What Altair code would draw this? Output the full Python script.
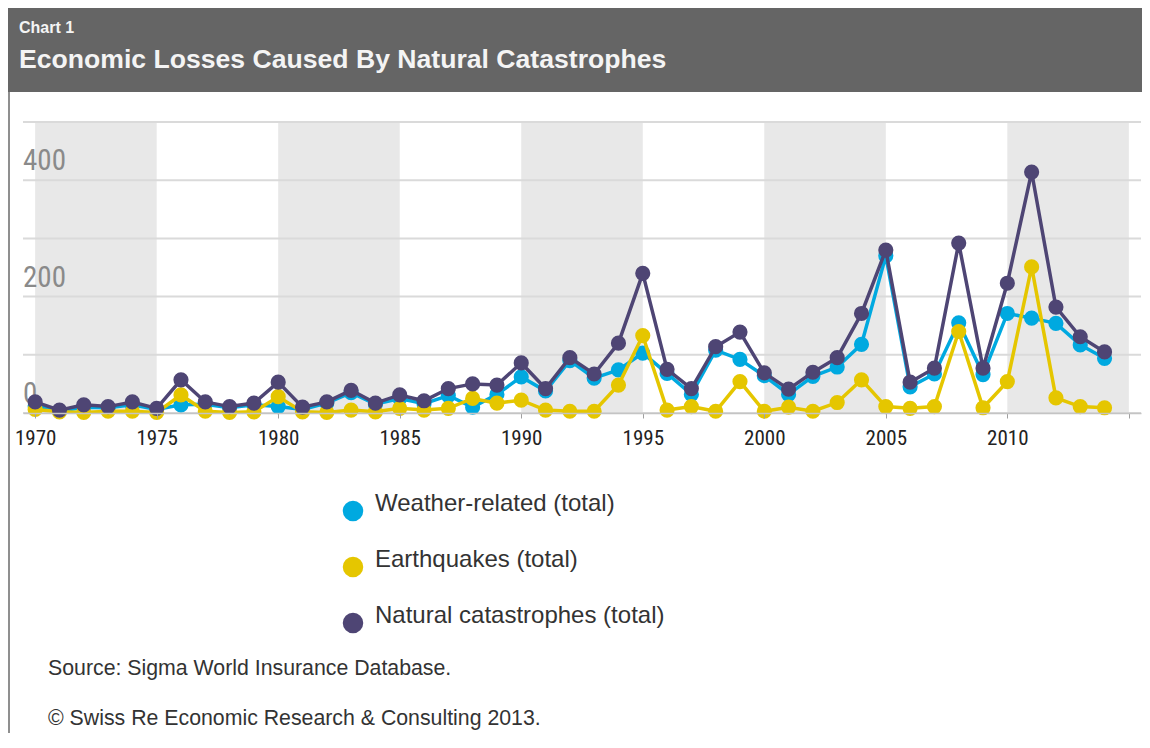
import altair as alt
import pandas as pd

# ---------------- data ----------------
years = list(range(1970, 2015))
weather = [12, 3, 10, 9, 14, 6, 14, 15, 9, 14,
           11, 6, 17, 35, 15, 25, 16, 30, 10, 32,
           62, 38, 90, 60, 74, 103, 68, 32, 108, 92,
           64, 32, 63, 79, 118, 270, 45, 67, 155, 66,
           171, 163, 154, 117, 94]
earthquakes = [6, 2, 1, 3, 3, 1, 31, 3, 1, 2,
               28, 2, 1, 5, 2, 8, 5, 8, 25, 17,
               22, 5, 3, 3, 48, 133, 5, 11, 3, 54,
               3, 10, 3, 18, 57, 11, 8, 11, 140, 9,
               54, 251, 26, 11, 9]
natcat = [19, 5, 14, 11, 19, 8, 57, 19, 11, 17,
          53, 10, 19, 39, 17, 31, 21, 42, 50, 48,
          86, 42, 95, 67, 120, 240, 75, 42, 114, 139,
          69, 41, 70, 95, 171, 280, 53, 77, 292, 77,
          223, 414, 182, 131, 105]

series_names = ["Weather-related (total)", "Earthquakes (total)", "Natural catastrophes (total)"]
series_colors = ["#00a9e0", "#e5c600", "#4e4574"]

band_starts = [1970, 1980, 1990, 2000, 2010]
band_ends = [1975, 1985, 1995, 2005, 2015]
grid_values = [0, 100, 200, 300, 400, 500]
y_label_values = [0, 200, 400]
x_tick_values = [1970, 1975, 1980, 1985, 1990, 1995, 2000, 2005, 2010, 2015]

chart_label = "Chart 1"
chart_title = "Economic Losses Caused By Natural Catastrophes"
source_note = "Source: Sigma World Insurance Database."
copyright_note = "\u00a9 Swiss Re Economic Research & Consulting 2013."

# ---------------- tables ----------------
rows = []
for name, vals in zip(series_names, [weather, earthquakes, natcat]):
    for y, v in zip(years, vals):
        rows.append({"year": y, "value": v, "series": name})
df = pd.DataFrame(rows)
band_df = pd.DataFrame({"start": band_starts, "end": band_ends})
grid_df = pd.DataFrame({"g": grid_values})
ylab_df = pd.DataFrame({"v": y_label_values})
one = pd.DataFrame({"k": [0]})

W, H = 1118, 291
SANS = "Liberation Sans, Arial, sans-serif"
NARROW = "Liberation Sans Narrow, Roboto Condensed, Liberation Sans, sans-serif"

xs = alt.Scale(domain=[1969.5, 2015.5], nice=False, zero=False)
ys = alt.Scale(domain=[0, 500], nice=False)
x_axis = alt.Axis(values=x_tick_values, format="d",
                  labelExpr="datum.value > 2010 ? '' : datum.label",
                  title=None, grid=False, domainColor="#c4c4c4", domainWidth=1.5,
                  tickColor="#a0a0a0", tickSize=5, labelPadding=9,
                  labelFont=NARROW, labelFontSize=21, labelColor="#222222",
                  zindex=1)
cscale = alt.Scale(domain=series_names, range=series_colors)
legend = alt.Legend(orient="none", legendX=318, legendY=377, title=None,
                    symbolType="circle", symbolSize=420, symbolStrokeWidth=0,
                    symbolOpacity=1, labelFontSize=24, labelFont=SANS,
                    labelColor="#333333", rowPadding=26, labelOffset=10,
                    labelBaseline="alphabetic", labelLimit=600)

X = lambda f: alt.X(f, scale=xs, axis=x_axis)

bands = alt.Chart(band_df).mark_rect(color="#e8e8e8").encode(
    x=X("start:Q"), x2="end:Q")

grid = alt.Chart(grid_df).mark_rule(color="#dadada", strokeWidth=2).encode(
    y=alt.Y("g:Q", scale=ys, axis=None))

ylabels = alt.Chart(ylab_df).mark_text(
    align="left", baseline="middle", dy=-19, fontSize=29, font=NARROW,
    color="#8a8a8a").encode(
    y=alt.Y("v:Q", scale=ys, axis=None), x=alt.value(0), text="v:Q")

layers = [bands, grid, ylabels]
for name, color in zip(series_names, series_colors):
    base = alt.Chart(df).transform_filter(alt.datum.series == name)
    line = base.mark_line(color=color, strokeWidth=3.5).encode(
        x=X("year:Q"), y=alt.Y("value:Q", scale=ys, axis=None))
    pts = base.mark_circle(size=230, opacity=1).encode(
        x=X("year:Q"), y=alt.Y("value:Q", scale=ys, axis=None),
        color=alt.Color("series:N", scale=cscale, legend=legend))
    layers += [line, pts]

# decorations: header band, titles, frame, notes
header = alt.Chart(one).mark_rect(color="#656565").encode(
    x=alt.value(-15), x2=alt.value(W + 1), y=alt.value(-114), y2=alt.value(-30))
frame = alt.Chart(one).mark_rule(color="#8f8f8f", strokeWidth=2).encode(
    x=alt.value(-14), y=alt.value(-30), y2=alt.value(620))
t1 = alt.Chart(one).mark_text(text=chart_label, align="left", baseline="alphabetic",
                              font=SANS, fontSize=16, fontWeight="bold",
                              color="#f4f4f4").encode(x=alt.value(-4), y=alt.value(-89))
t2 = alt.Chart(one).mark_text(text=chart_title, align="left", baseline="alphabetic",
                              font=SANS, fontSize=26.6, fontWeight="bold",
                              color="#f4f4f4").encode(x=alt.value(-4), y=alt.value(-54))
n1 = alt.Chart(one).mark_text(text=source_note, align="left", baseline="alphabetic",
                              font=SANS, fontSize=21.3, color="#333333").encode(
    x=alt.value(25), y=alt.value(553))
n2 = alt.Chart(one).mark_text(text=copyright_note, align="left", baseline="alphabetic",
                              font=SANS, fontSize=21.3, color="#333333").encode(
    x=alt.value(25), y=alt.value(603))

chart = alt.layer(*layers, header, frame, t1, t2, n1, n2).properties(
    width=W, height=H,
    autosize=alt.AutoSizeParams(type="none"),
    padding={"left": 15, "top": 114, "right": 1, "bottom": 320},
    background="white",
).configure_view(stroke=None)

chart.save("out.html", embed_options={"renderer": "svg", "actions": False})
